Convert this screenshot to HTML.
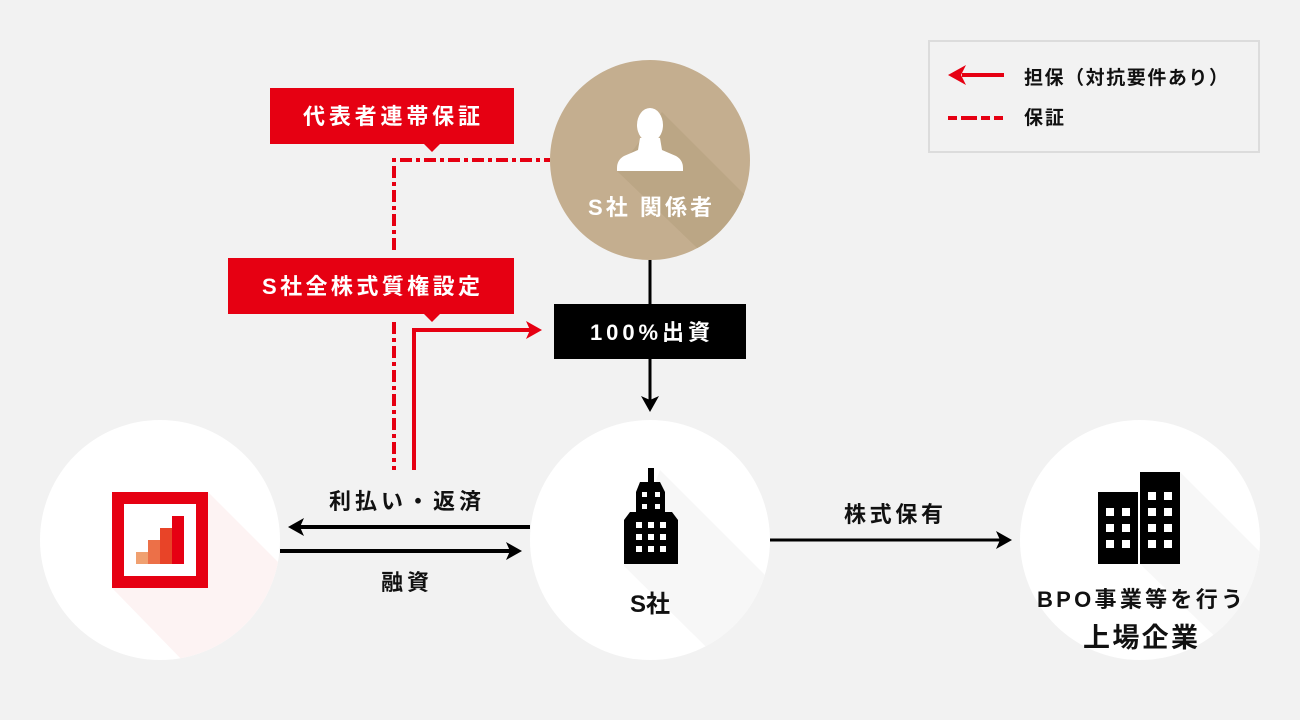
<!DOCTYPE html>
<html><head><meta charset="utf-8"><style>
html,body{margin:0;padding:0;background:#f2f2f2;}
svg{display:block;}
text{font-family:"Liberation Sans","Noto Sans CJK JP",sans-serif;font-weight:bold;}
</style></head><body>
<svg width="1300" height="720" viewBox="0 0 1300 720" xmlns="http://www.w3.org/2000/svg">
<defs>
<clipPath id="c1"><circle cx="160" cy="540" r="120"/></clipPath>
<clipPath id="c2"><circle cx="650" cy="540" r="120"/></clipPath>
<clipPath id="c3"><circle cx="1140" cy="540" r="120"/></clipPath>
<clipPath id="c4"><circle cx="650" cy="160" r="100"/></clipPath>
</defs>
<rect width="1300" height="720" fill="#f2f2f2"/>

<!-- legend -->
<rect x="929" y="41" width="330" height="111" fill="#f2f2f2" stroke="#dcdcdc" stroke-width="2"/>
<line x1="962" y1="75" x2="1004" y2="75" stroke="#e60012" stroke-width="4"/>
<path d="M948,75 L966,65 L961,75 L966,85 Z" fill="#e60012"/>
<line x1="948" y1="118" x2="1004" y2="118" stroke="#e60012" stroke-width="4" stroke-dasharray="9,4,16,4,9,4,9"/>
<text x="1024" y="84" font-size="19" fill="#111" textLength="204" lengthAdjust="spacing">担保（対抗要件あり）</text>
<text x="1024" y="124" font-size="19" fill="#111" textLength="40" lengthAdjust="spacing">保証</text>

<!-- left circle -->
<circle cx="160" cy="540" r="120" fill="#ffffff"/>
<polygon clip-path="url(#c1)" points="208,492 340,624 260,740 112,588" fill="#fdf3f3"/>
<rect x="118" y="498" width="84" height="84" fill="#fff" stroke="#e60012" stroke-width="12"/>
<rect x="136" y="552" width="12" height="12" fill="#f0a070"/>
<rect x="148" y="540" width="12" height="24" fill="#ec7048"/>
<rect x="160" y="528" width="12" height="36" fill="#e84428"/>
<rect x="172" y="516" width="12" height="48" fill="#e60012"/>

<!-- S社 circle -->
<circle cx="650" cy="540" r="120" fill="#ffffff"/>
<polygon clip-path="url(#c2)" points="660,470 800,610 760,700 624,566" fill="#f7f7f7"/>
<rect x="648" y="468" width="6" height="14" fill="#000"/>
<path d="M640,482 L660,482 L665,492 L665,512 L672,512 L678,520 L678,564 L624,564 L624,520 L630,512 L636,512 L636,492 Z" fill="#000"/>
<g fill="#fff">
<rect x="642" y="492" width="5" height="5"/><rect x="655" y="492" width="5" height="5"/>
<rect x="642" y="504" width="5" height="5"/><rect x="655" y="504" width="5" height="5"/>
<rect x="636" y="522" width="6" height="6"/><rect x="648" y="522" width="6" height="6"/><rect x="660" y="522" width="6" height="6"/>
<rect x="636" y="534" width="6" height="6"/><rect x="648" y="534" width="6" height="6"/><rect x="660" y="534" width="6" height="6"/>
<rect x="636" y="546" width="6" height="6"/><rect x="648" y="546" width="6" height="6"/><rect x="660" y="546" width="6" height="6"/>
</g>
<text x="650" y="612" font-size="24" fill="#111" text-anchor="middle">S社</text>

<!-- right circle -->
<circle cx="1140" cy="540" r="120" fill="#ffffff"/>
<polygon clip-path="url(#c3)" points="1180,472 1300,592 1260,680 1140,564" fill="#f7f7f7"/>
<rect x="1098" y="492" width="40" height="72" fill="#000"/>
<rect x="1140" y="472" width="40" height="92" fill="#000"/>
<g fill="#fff">
<rect x="1106" y="508" width="8" height="8"/><rect x="1122" y="508" width="8" height="8"/>
<rect x="1106" y="524" width="8" height="8"/><rect x="1122" y="524" width="8" height="8"/>
<rect x="1106" y="540" width="8" height="8"/><rect x="1122" y="540" width="8" height="8"/>
<rect x="1148" y="492" width="8" height="8"/><rect x="1164" y="492" width="8" height="8"/>
<rect x="1148" y="508" width="8" height="8"/><rect x="1164" y="508" width="8" height="8"/>
<rect x="1148" y="524" width="8" height="8"/><rect x="1164" y="524" width="8" height="8"/>
<rect x="1148" y="540" width="8" height="8"/><rect x="1164" y="540" width="8" height="8"/>
</g>
<text x="1037" y="607" font-size="22" fill="#111" textLength="206" lengthAdjust="spacing">BPO事業等を行う</text>
<text x="1083" y="647" font-size="27" fill="#111" textLength="115" lengthAdjust="spacing">上場企業</text>

<!-- top tan circle -->
<circle cx="650" cy="160" r="100" fill="#c4ae8f"/>
<polygon clip-path="url(#c4)" points="662,112 760,210 720,270 617,171" fill="#bba685"/>
<ellipse cx="650" cy="125" rx="13" ry="17" fill="#fff"/>
<path d="M640,138 L660,138 L662,150 L676,156 Q683,160 683,168 L683,171 L617,171 L617,168 Q617,160 624,156 L638,150 Z" fill="#fff"/>
<text x="588" y="215" font-size="22" fill="#fff" textLength="124" lengthAdjust="spacing">S社 関係者</text>

<!-- red labels -->
<rect x="270" y="88" width="244" height="56" fill="#e60012"/>
<polygon points="424,144 440,144 432,152" fill="#e60012"/>
<text x="303" y="124" font-size="22" fill="#fff" textLength="177" lengthAdjust="spacing">代表者連帯保証</text>
<rect x="228" y="258" width="286" height="56" fill="#e60012"/>
<polygon points="424,314 440,314 432,322" fill="#e60012"/>
<text x="262" y="294" font-size="22" fill="#fff" textLength="218" lengthAdjust="spacing">S社全株式質権設定</text>

<!-- dashed guarantee line -->
<path d="M394,250 L394,160 L550,160" fill="none" stroke="#e60012" stroke-width="4" stroke-dasharray="12,4,4,4"/>
<line x1="394" y1="322" x2="394" y2="470" stroke="#e60012" stroke-width="4" stroke-dasharray="12,4,4,4"/>

<!-- solid red security arrow -->
<path d="M414,470 L414,330 L530,330" fill="none" stroke="#e60012" stroke-width="4"/>
<path d="M542,330 L526,321 L530,330 L526,339 Z" fill="#e60012"/>

<!-- 100% investment -->
<line x1="650" y1="260" x2="650" y2="304" stroke="#000" stroke-width="3"/>
<rect x="554" y="304" width="192" height="55" fill="#000"/>
<text x="590" y="340" font-size="22" fill="#fff" textLength="120" lengthAdjust="spacing">100%出資</text>
<line x1="650" y1="359" x2="650" y2="402" stroke="#000" stroke-width="3"/>
<path d="M650,412 L641,396 L650,400 L659,396 Z" fill="#000"/>

<!-- loan arrows -->
<line x1="530" y1="527" x2="296" y2="527" stroke="#000" stroke-width="4"/>
<path d="M288,527 L304,518 L300,527 L304,536 Z" fill="#000"/>
<line x1="280" y1="551" x2="512" y2="551" stroke="#000" stroke-width="4"/>
<path d="M522,551 L506,542 L510,551 L506,560 Z" fill="#000"/>
<text x="329" y="509" font-size="22" fill="#111" textLength="152" lengthAdjust="spacing">利払い・返済</text>
<text x="381" y="590" font-size="22" fill="#111" textLength="48" lengthAdjust="spacing">融資</text>

<!-- share holding -->
<line x1="770" y1="540" x2="1002" y2="540" stroke="#000" stroke-width="3"/>
<path d="M1012,540 L996,531 L1000,540 L996,549 Z" fill="#000"/>
<text x="844" y="522" font-size="22" fill="#111" textLength="99" lengthAdjust="spacing">株式保有</text>
</svg>
</body></html>
